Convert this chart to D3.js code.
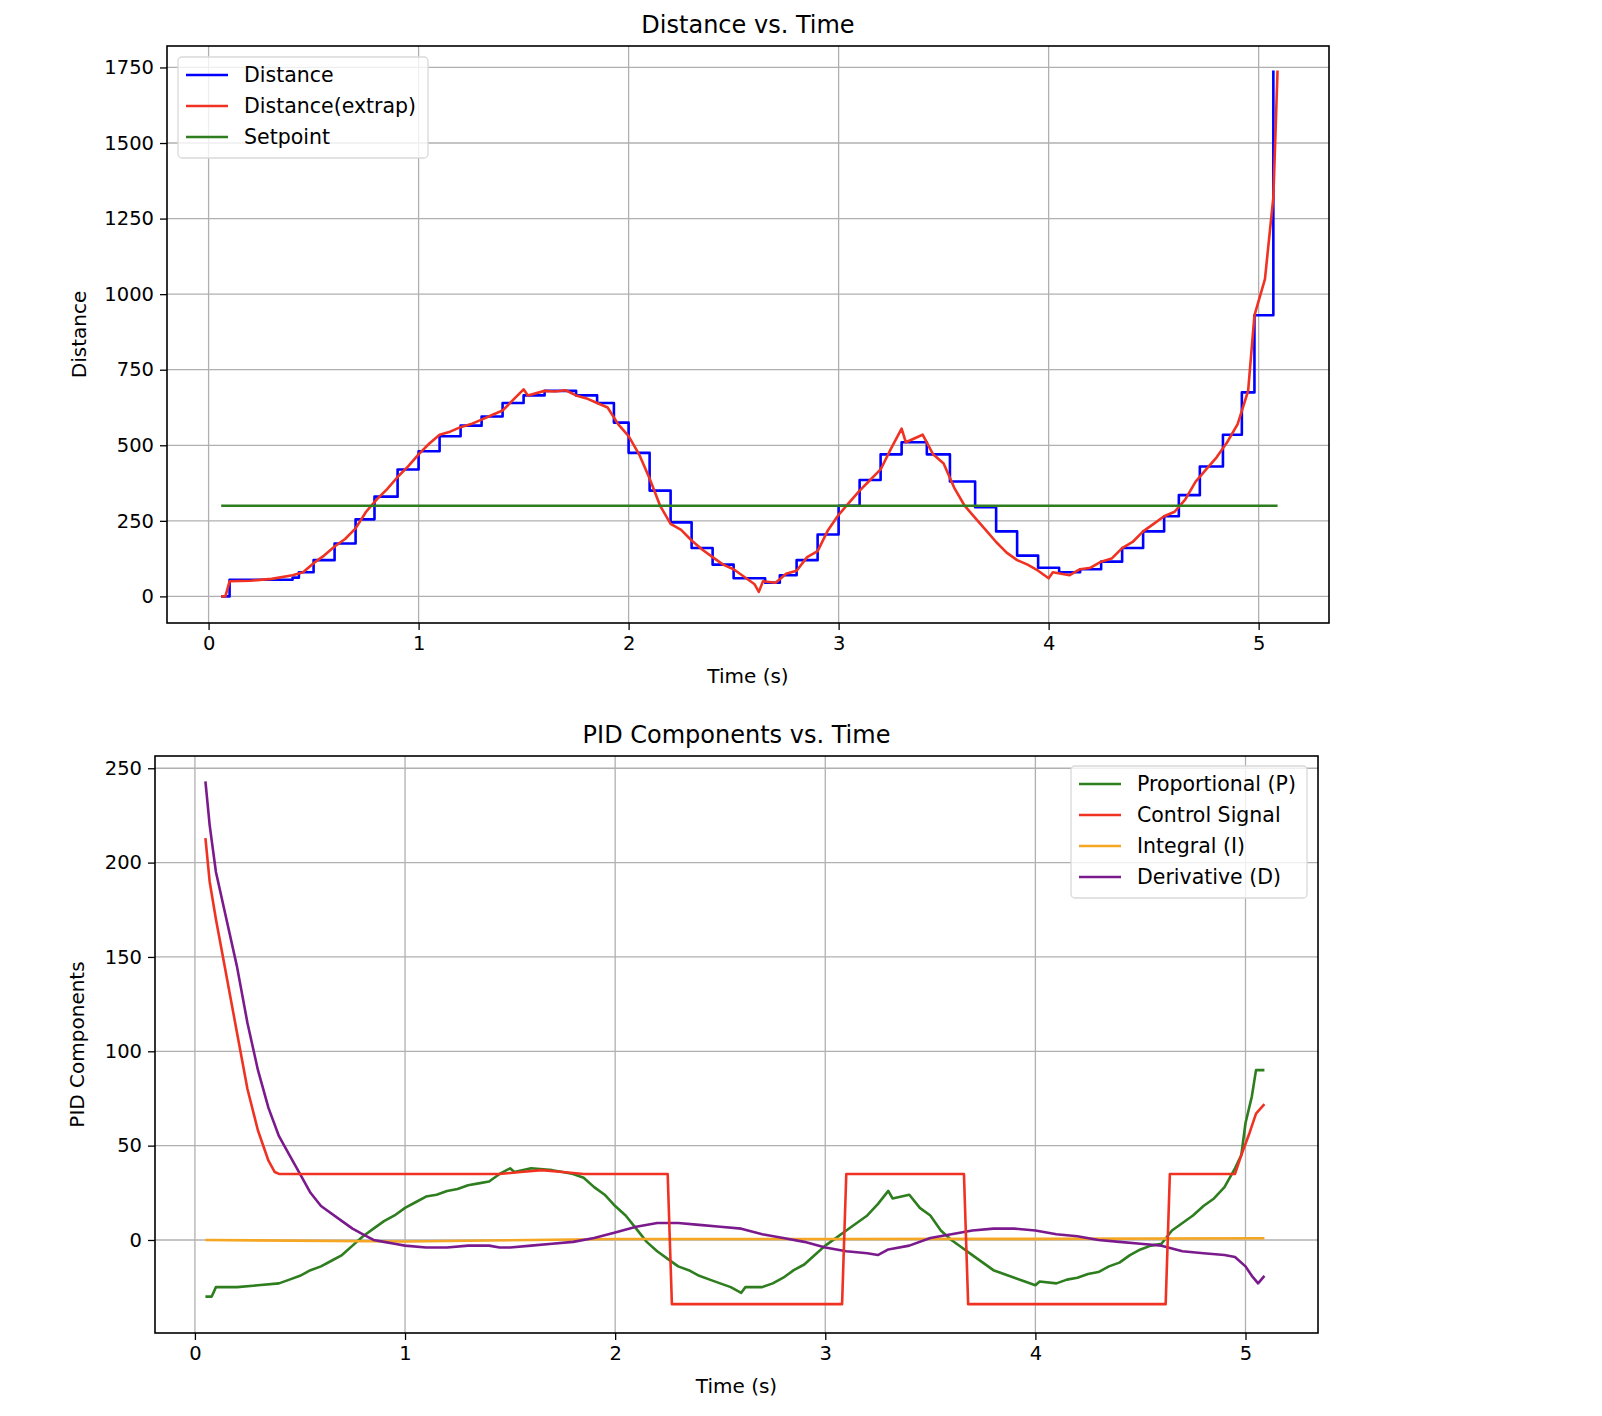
<!DOCTYPE html>
<html>
<head>
<meta charset="utf-8">
<script src="https://cdn.jsdelivr.net/npm/d3@7"></script>
<style>
  body { margin: 0; background: #fff; }
  svg text { font-family: "DejaVu Sans", sans-serif; fill: #000; }
</style>
</head>
<body>
<script>
// Top chart: extrapolated distance, sensor distance (step), setpoint.
const extrapT = [0.06,0.08,0.1,0.2,0.3,0.4,0.45,0.5,0.55,0.6,0.65,0.7,0.75,0.8,0.85,0.9,0.95,1.0,1.05,1.1,1.15,1.2,1.25,1.3,1.35,1.4,1.45,1.5,1.52,1.6,1.65,1.7,1.75,1.8,1.85,1.9,1.95,2.0,2.05,2.1,2.15,2.2,2.25,2.3,2.35,2.4,2.45,2.5,2.55,2.6,2.62,2.64,2.7,2.75,2.8,2.85,2.9,2.95,3.0,3.05,3.1,3.15,3.2,3.25,3.3,3.32,3.4,3.45,3.5,3.55,3.6,3.65,3.7,3.75,3.8,3.85,3.9,3.95,4.0,4.02,4.1,4.15,4.2,4.25,4.3,4.35,4.4,4.45,4.5,4.55,4.6,4.65,4.7,4.75,4.8,4.85,4.9,4.95,4.98,5.03,5.07,5.09];
const extrapV = [0,0,50,52,58,70,80,110,135,165,190,225,280,320,355,395,430,470,505,535,545,560,570,585,600,615,650,685,665,680,678,682,665,655,640,625,570,530,470,390,300,240,220,185,155,130,105,90,65,40,15,50,45,75,85,130,150,220,270,310,350,385,420,490,555,510,535,470,440,360,300,260,220,180,145,120,105,85,60,80,70,90,95,115,125,160,180,215,240,265,280,320,380,420,460,510,570,680,930,1050,1320,1740];

const distT = [0.06,0.1,0.4,0.43,0.5,0.6,0.7,0.79,0.9,1.0,1.1,1.2,1.3,1.4,1.5,1.6,1.75,1.85,1.93,2.0,2.1,2.2,2.3,2.4,2.5,2.65,2.72,2.8,2.9,3.0,3.1,3.2,3.3,3.42,3.53,3.65,3.75,3.85,3.95,4.05,4.15,4.25,4.35,4.45,4.55,4.62,4.72,4.83,4.92,4.98,5.07];
const distV = [0,55,62,80,120,175,255,330,420,480,530,565,595,640,665,680,665,640,575,475,350,245,160,105,60,45,70,120,205,300,385,470,510,470,380,295,215,135,95,80,90,115,160,215,265,335,430,535,675,930,1740];

const setpointT = [0.06, 5.09];
const setpointV = [300, 300];

// Bottom chart: PID components.
const controlT = [0.05,0.07,0.1,0.15,0.2,0.25,0.3,0.35,0.38,0.4,1.45,1.55,1.65,1.75,1.85,2.25,2.27,3.08,3.1,3.66,3.68,4.62,4.64,4.95,4.98,5.02,5.05,5.09];
const controlV = [213,190,170,140,110,80,58,42,36,35,35,36,37,36,35,35,-34,-34,35,35,-34,-34,35,35,45,57,67,72];

const derivT = [0.05,0.07,0.1,0.15,0.2,0.25,0.3,0.35,0.4,0.45,0.5,0.55,0.6,0.7,0.75,0.8,0.85,0.9,0.95,1.0,1.1,1.2,1.3,1.4,1.45,1.5,1.6,1.7,1.8,1.9,2.0,2.1,2.2,2.3,2.4,2.5,2.6,2.7,2.8,2.9,3.0,3.1,3.2,3.25,3.3,3.4,3.5,3.6,3.7,3.8,3.9,4.0,4.1,4.2,4.3,4.4,4.5,4.6,4.7,4.8,4.9,4.95,5.0,5.03,5.06,5.09];
const derivV = [243,220,195,170,145,115,90,70,55,45,35,25,18,10,6,3,0,-1,-2,-3,-4,-4,-3,-3,-4,-4,-3,-2,-1,1,4,7,9,9,8,7,6,3,1,-1,-4,-6,-7,-8,-5,-3,1,3,5,6,6,5,3,2,0,-1,-2,-3,-6,-7,-8,-9,-14,-19,-23,-19];

const integT = [0.05,1.0,2.0,3.0,4.0,5.09];
const integV = [0,-0.8,0.5,0.5,0.6,0.9];

const propT = [0.05,0.08,0.1,0.2,0.3,0.4,0.45,0.5,0.55,0.6,0.65,0.7,0.75,0.8,0.85,0.9,0.95,1.0,1.05,1.1,1.15,1.2,1.25,1.3,1.35,1.4,1.45,1.5,1.52,1.6,1.7,1.75,1.8,1.85,1.9,1.95,2.0,2.05,2.1,2.15,2.2,2.25,2.3,2.35,2.4,2.45,2.5,2.55,2.6,2.62,2.7,2.75,2.8,2.85,2.9,2.95,3.0,3.05,3.1,3.15,3.2,3.25,3.3,3.32,3.4,3.45,3.5,3.55,3.6,3.65,3.7,3.75,3.8,3.85,3.9,3.95,4.0,4.02,4.1,4.15,4.2,4.25,4.3,4.35,4.4,4.45,4.5,4.55,4.6,4.65,4.7,4.75,4.8,4.85,4.9,4.95,4.98,5.0,5.03,5.05,5.09];
const propV = [-30,-30,-25,-25,-24,-23,-21,-19,-16,-14,-11,-8,-3,2,6,10,13,17,20,23,24,26,27,29,30,31,35,38,36,38,37,36,35,33,28,24,18,13,6,-1,-6,-10,-14,-16,-19,-21,-23,-25,-28,-25,-25,-23,-20,-16,-13,-8,-3,1,5,9,13,19,26,22,24,17,13,5,0,-4,-8,-12,-16,-18,-20,-22,-24,-22,-23,-21,-20,-18,-17,-14,-12,-8,-5,-3,-2,5,9,13,18,22,28,38,45,62,76,90,90];

const xTicks = [0, 1, 2, 3, 4, 5];
const topYTicks = [0, 250, 500, 750, 1000, 1250, 1500, 1750];
const botYTicks = [0, 50, 100, 150, 200, 250];

const zip = (t, v) => t.map((d, i) => [d, v[i]]);

const svg = d3.select('body').append('svg')
  .attr('width', 1602).attr('height', 1416);

function drawPanel(cfg)
{
  const x = d3.scaleLinear().domain(cfg.xDomain).range([cfg.left, cfg.right]);
  const y = d3.scaleLinear().domain(cfg.yDomain).range([cfg.bottom, cfg.top]);
  const g = svg.append('g');

  // grid
  g.selectAll('.vg').data(xTicks).enter().append('line')
    .attr('x1', d => x(d)).attr('x2', d => x(d))
    .attr('y1', cfg.top).attr('y2', cfg.bottom)
    .attr('stroke', '#b0b0b0').attr('stroke-width', 1.3);
  g.selectAll('.hg').data(cfg.yTicks).enter().append('line')
    .attr('x1', cfg.left).attr('x2', cfg.right)
    .attr('y1', d => y(d)).attr('y2', d => y(d))
    .attr('stroke', '#b0b0b0').attr('stroke-width', 1.3);

  const clip = 'clip' + cfg.id;
  svg.append('clipPath').attr('id', clip).append('rect')
    .attr('x', cfg.left).attr('y', cfg.top)
    .attr('width', cfg.right - cfg.left).attr('height', cfg.bottom - cfg.top);

  cfg.series.forEach(s =>
  {
    const line = d3.line().x(d => x(d[0])).y(d => y(d[1]));
    if (s.step) line.curve(d3.curveStepAfter);
    g.append('path').datum(s.data)
      .attr('clip-path', 'url(#' + clip + ')')
      .attr('fill', 'none').attr('stroke', s.color)
      .attr('stroke-width', 2.6).attr('stroke-linejoin', 'round')
      .attr('d', line);
  });

  // axes
  const xAxis = d3.axisBottom(x).tickValues(xTicks).tickSize(7).tickPadding(6).tickFormat(d3.format('d'));
  const yAxis = d3.axisLeft(y).tickValues(cfg.yTicks).tickSize(7).tickPadding(6).tickFormat(d3.format('d'));
  [g.append('g').attr('transform', 'translate(0,' + cfg.bottom + ')').call(xAxis),
   g.append('g').attr('transform', 'translate(' + cfg.left + ',0)').call(yAxis)]
    .forEach(a =>
    {
      a.select('.domain').remove();
      a.selectAll('line').attr('stroke', '#000').attr('stroke-width', 1.3);
      a.selectAll('text').style('font-size', '19.5px').attr('font-family', 'DejaVu Sans');
    });

  g.append('rect')
    .attr('x', cfg.left).attr('y', cfg.top)
    .attr('width', cfg.right - cfg.left).attr('height', cfg.bottom - cfg.top)
    .attr('fill', 'none').attr('stroke', '#000').attr('stroke-width', 1.6);

  g.append('text').attr('x', (cfg.left + cfg.right) / 2).attr('y', cfg.top - 13)
    .attr('text-anchor', 'middle').style('font-size', '24px').text(cfg.title);
  g.append('text').attr('x', (cfg.left + cfg.right) / 2).attr('y', cfg.bottom + 60)
    .attr('text-anchor', 'middle').style('font-size', '20px').text('Time (s)');
  g.append('text')
    .attr('transform', 'translate(' + cfg.yLabelX + ',' + ((cfg.top + cfg.bottom) / 2) + ') rotate(-90)')
    .attr('text-anchor', 'middle').style('font-size', '20px').text(cfg.yLabel);

  // legend
  const L = cfg.legend;
  const lg = g.append('g');
  lg.append('rect').attr('x', L.x).attr('y', L.y).attr('width', L.w)
    .attr('height', cfg.series.length * 31 + 8).attr('rx', 4)
    .attr('fill', '#fff').attr('fill-opacity', 0.8)
    .attr('stroke', '#d9d9d9').attr('stroke-width', 1.3);
  L.order.forEach((idx, i) =>
  {
    const s = cfg.series[idx];
    const yy = L.y + 18 + i * 31;
    lg.append('line').attr('x1', L.x + 8).attr('x2', L.x + 50)
      .attr('y1', yy).attr('y2', yy).attr('stroke', s.color).attr('stroke-width', 2.6);
    lg.append('text').attr('x', L.x + 66).attr('y', yy + 7)
      .style('font-size', '20.5px').text(s.name);
  });
}

drawPanel({
  id: 'top', title: 'Distance vs. Time', yLabel: 'Distance', yLabelX: 86,
  left: 167, right: 1329, top: 46, bottom: 623,
  xDomain: [-0.198, 5.335], yDomain: [-88, 1821], yTicks: topYTicks,
  series: [
    {name: 'Distance', color: '#0000ff', data: zip(distT, distV), step: true},
    {name: 'Distance(extrap)', color: '#f03223', data: zip(extrapT, extrapV)},
    {name: 'Setpoint', color: '#2e7d1e', data: zip(setpointT, setpointV)}
  ],
  legend: {x: 178, y: 57, w: 250, order: [0, 1, 2]}
});

drawPanel({
  id: 'bot', title: 'PID Components vs. Time', yLabel: 'PID Components', yLabelX: 84,
  left: 155, right: 1318, top: 756, bottom: 1333,
  xDomain: [-0.19, 5.345], yDomain: [-49.3, 256.5], yTicks: botYTicks,
  series: [
    {name: 'Proportional (P)', color: '#2e7d1e', data: zip(propT, propV)},
    {name: 'Integral (I)', color: '#f5a623', data: zip(integT, integV)},
    {name: 'Derivative (D)', color: '#7b1a8c', data: zip(derivT, derivV)},
    {name: 'Control Signal', color: '#f03223', data: zip(controlT, controlV)}
  ],
  legend: {x: 1071, y: 766, w: 236, order: [0, 3, 1, 2]}
});
</script>
</body>
</html>
